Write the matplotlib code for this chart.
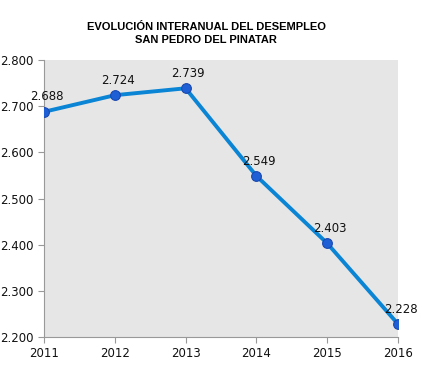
import matplotlib
matplotlib.use("Agg")
import matplotlib.pyplot as plt
from matplotlib.ticker import FuncFormatter

years = ["2011", "2012", "2013", "2014", "2015", "2016"]
paro = [2688, 2724, 2739, 2549, 2403, 2228]
yticks = [2200, 2300, 2400, 2500, 2600, 2700, 2800]


def miles(v, pos=None):
    # formato español: punto como separador de miles
    return "{:,.0f}".format(v).replace(",", ".")


fig = plt.figure(figsize=(4.23, 3.83), dpi=100)
ax = fig.add_axes([0.104, 0.120, 0.837, 0.723])
ax.set_facecolor("#e6e6e6")

x = list(range(len(years)))
ax.plot(x, paro, color="#0a84d4", lw=2.8, zorder=2)
ax.plot(x, paro, "o", ms=7, color="#1f5fd6", mec="#1848b0", mew=0.8, zorder=3)
for xi, v in zip(x, paro):
    ax.annotate(miles(v), (xi, v), xytext=(2, 6), textcoords="offset points",
                ha="center", va="bottom", fontsize=8.5, color="#111111")

ax.set_xlim(0, len(years) - 1)
ax.set_ylim(2200, 2800)
ax.set_xticks(x)
ax.set_xticklabels(years)
ax.set_yticks(yticks)
ax.yaxis.set_major_formatter(FuncFormatter(miles))
ax.tick_params(labelsize=8.5, color="#999999", length=4, labelcolor="#111111")
for s in ["top", "right"]:
    ax.spines[s].set_visible(False)
for s in ["left", "bottom"]:
    ax.spines[s].set_color("#999999")

fig.text(0.487, 0.913, "EVOLUCIÓN INTERANUAL DEL DESEMPLEO\nSAN PEDRO DEL PINATAR",
         ha="center", va="center", fontsize=8, fontweight="bold", linespacing=1.35,
         family="Liberation Sans")

fig.savefig("out.png", dpi=100)
